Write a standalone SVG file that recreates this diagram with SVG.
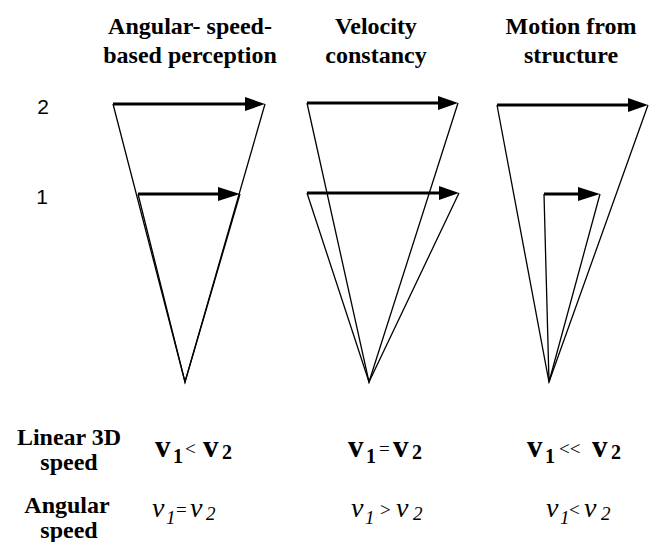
<svg xmlns="http://www.w3.org/2000/svg" width="653" height="542" viewBox="0 0 653 542">
<defs>
<style>
text{fill:#000}
.t{font-weight:bold;font-size:24px;text-anchor:middle}
.n{font-size:21px;text-anchor:middle}
.bv{font-weight:bold;font-size:31px}
.bs{font-weight:bold;font-size:20px}
.op{font-size:19px}
.iv{font-style:italic;font-size:28px}
.is{font-style:italic;font-size:19px}
.thin{fill:none;stroke:#000;stroke-width:1.3;stroke-linejoin:miter}
.arr{fill:none;stroke:#000;stroke-width:3.2}
.head{fill:#000;stroke:none}
</style>
</defs>
<g id="titles" font-family="Liberation Serif, Times New Roman, DejaVu Serif, serif">
<text class="t" x="190" y="34">Angular- speed-</text>
<text class="t" x="190" y="63">based perception</text>
<text class="t" x="376" y="34">Velocity</text>
<text class="t" x="376" y="63">constancy</text>
<text class="t" x="571" y="34">Motion from</text>
<text class="t" x="571" y="63">structure</text>
</g>
<g id="row-labels" font-family="Liberation Sans, Arial, sans-serif">
<text class="n" x="43" y="114">2</text>
<text class="n" x="42" y="204">1</text>
</g>
<g id="panel-angular">
<polyline class="thin" points="113,104 185,382 265,104"/>
<polyline class="thin" points="138,194 185,382 240,194"/>
<line class="arr" x1="113" y1="104" x2="247" y2="104"/>
<polygon class="head" points="265,104 245,97 245,111"/>
<line class="arr" x1="138" y1="194" x2="220" y2="194"/>
<polygon class="head" points="240,194 218,187 218,201"/>
</g>
<g id="panel-velocity">
<polyline class="thin" points="307,103 369,382 458,103"/>
<polyline class="thin" points="307,193 369,382 459,193"/>
<line class="arr" x1="307" y1="103" x2="440" y2="103"/>
<polygon class="head" points="458,103 438,96 438,110"/>
<line class="arr" x1="307" y1="193" x2="441" y2="193"/>
<polygon class="head" points="459,193 439,186 439,200"/>
</g>
<g id="panel-structure">
<polyline class="thin" points="497,105 549,382 648,105"/>
<polyline class="thin" points="544,194 549,382 600,194"/>
<line class="arr" x1="497" y1="105" x2="630" y2="105"/>
<polygon class="head" points="648,105 628,98 628,112"/>
<line class="arr" x1="544" y1="194" x2="580" y2="194"/>
<polygon class="head" points="600,194 578,187 578,201"/>
</g>
<g id="bottom-labels" font-family="Liberation Serif, Times New Roman, DejaVu Serif, serif">
<text class="t" x="69" y="445">Linear 3D</text>
<text class="t" x="69" y="470">speed</text>
<text class="t" x="67" y="513">Angular</text>
<text class="t" x="69" y="538">speed</text>
</g>
<g id="linear-speeds" font-family="Liberation Serif, Times New Roman, DejaVu Serif, serif">
<text class="bv" x="155" y="457">v</text><text class="bs" x="173" y="463">1</text><text class="op" x="185" y="455">&lt;</text><text class="bv" x="203" y="457">v</text><text class="bs" x="222" y="459">2</text>
<text class="bv" x="348" y="457">v</text><text class="bs" x="366" y="463">1</text><text class="op" x="379" y="455">=</text><text class="bv" x="393" y="457">v</text><text class="bs" x="412" y="459">2</text>
<text class="bv" x="527" y="457">v</text><text class="bs" x="545" y="463">1</text><text class="op" x="559" y="455">&lt;&lt;</text><text class="bv" x="592" y="457">v</text><text class="bs" x="611" y="459">2</text>
</g>
<g id="angular-speeds" font-family="Liberation Serif, Times New Roman, DejaVu Serif, serif">
<text class="iv" x="152" y="517">v</text><text class="is" x="166" y="524">1</text><text class="op" x="176" y="516">=</text><text class="iv" x="190" y="517">v</text><text class="is" x="206" y="520">2</text>
<text class="iv" x="351" y="517">v</text><text class="is" x="365" y="524">1</text><text class="op" x="380" y="516">&gt;</text><text class="iv" x="396" y="517">v</text><text class="is" x="413" y="520">2</text>
<text class="iv" x="546" y="517">v</text><text class="is" x="560" y="524">1</text><text class="op" x="569" y="516">&lt;</text><text class="iv" x="584" y="517">v</text><text class="is" x="601" y="520">2</text>
</g>
</svg>
